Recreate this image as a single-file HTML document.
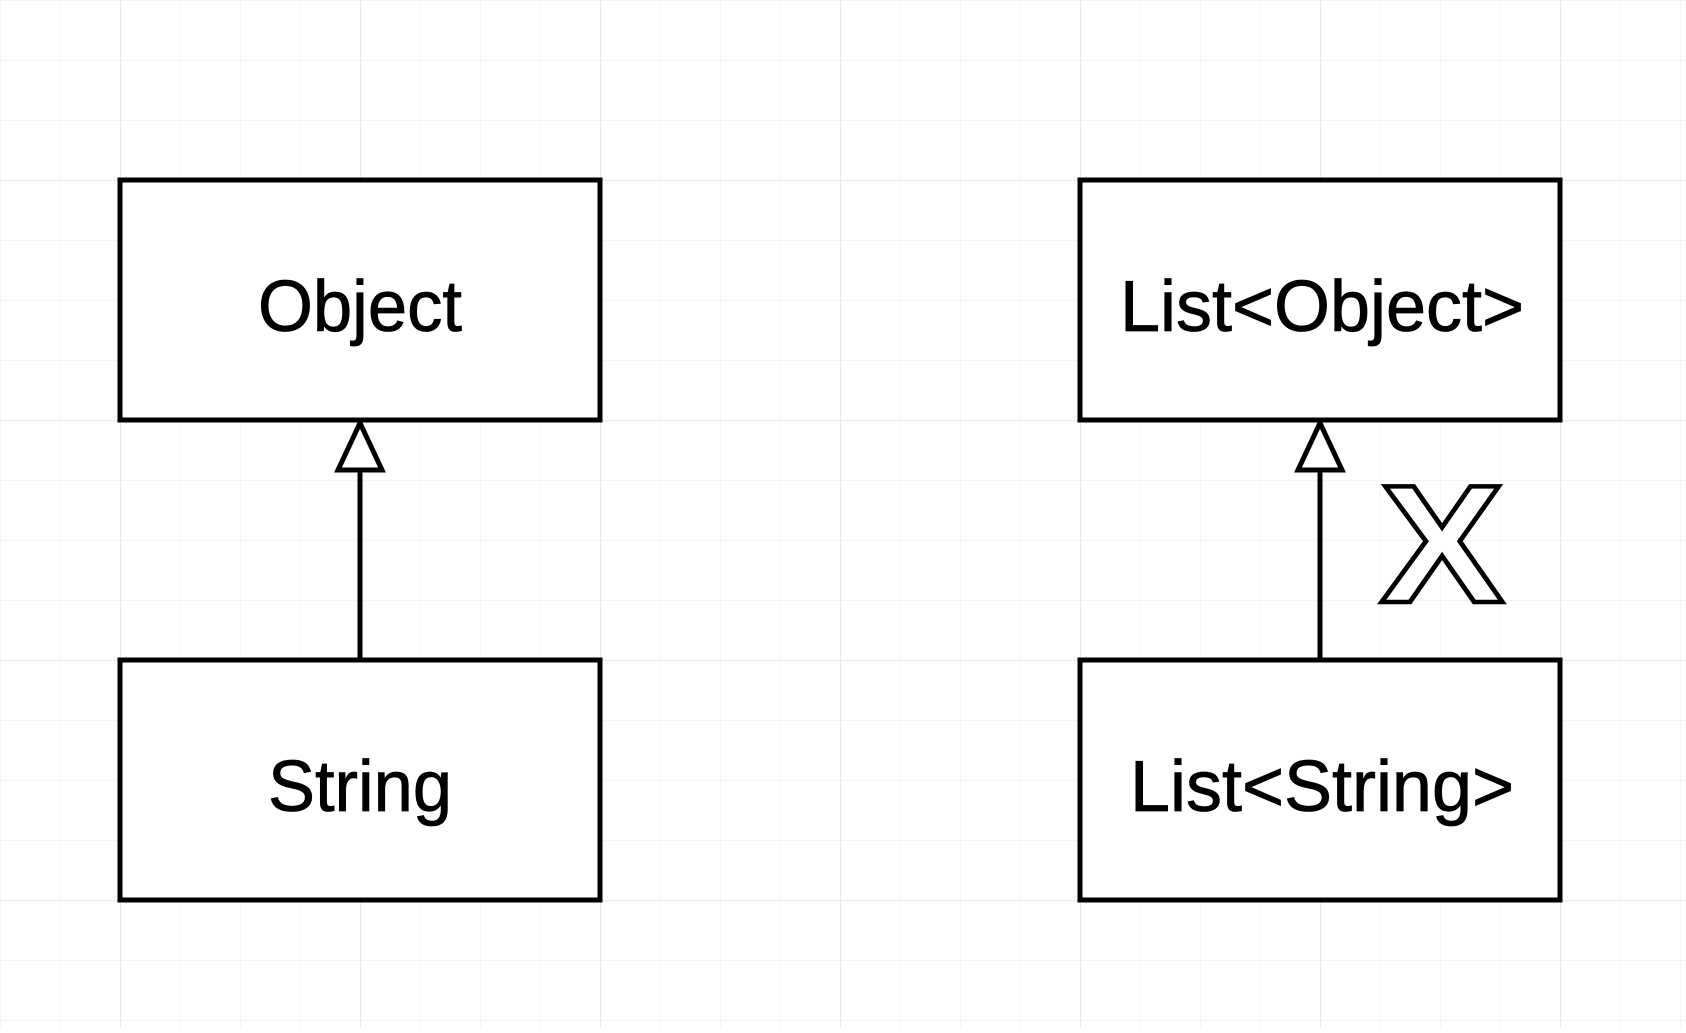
<!DOCTYPE html>
<html><head><meta charset="utf-8"><style>
html,body{margin:0;padding:0;background:#fff}
</style></head><body>
<svg width="1686" height="1028" xmlns="http://www.w3.org/2000/svg">
<defs>
<pattern id="minor" width="60" height="60" patternUnits="userSpaceOnUse">
<path d="M0 0H60M0 0V60" fill="none" stroke="#ebebeb" stroke-width="1"/>
</pattern>
<pattern id="major" x="120" y="180" width="240" height="240" patternUnits="userSpaceOnUse">
<path d="M0 0H240M0 0V240" fill="none" stroke="#d6d6d6" stroke-width="1"/>
</pattern>
</defs>
<rect width="1686" height="1028" fill="url(#minor)"/>
<rect width="1686" height="1028" fill="url(#major)"/>
<g fill="#fff" stroke="#000" stroke-width="5">
<rect x="120" y="180" width="480" height="240"/>
<rect x="120" y="660" width="480" height="240"/>
<rect x="1080" y="180" width="480" height="240"/>
<rect x="1080" y="660" width="480" height="240"/>
<line x1="360" y1="470" x2="360" y2="660"/>
<polygon points="360,423 338,470 382,470"/>
<line x1="1320" y1="470" x2="1320" y2="660"/>
<polygon points="1320,423 1298,470 1342,470"/>
</g>
<g font-family="Liberation Sans, Arial, sans-serif" font-size="72" text-anchor="middle" fill="#000" stroke="#000" stroke-width="0.8">
<text x="360" y="331" textLength="204" lengthAdjust="spacingAndGlyphs">Object</text>
<text x="360" y="811" textLength="184" lengthAdjust="spacingAndGlyphs">String</text>
<text x="1322" y="331" textLength="404" lengthAdjust="spacingAndGlyphs">List&lt;Object&gt;</text>
<text x="1322" y="811" textLength="384" lengthAdjust="spacingAndGlyphs">List&lt;String&gt;</text>
</g>
<text x="1380" y="602" font-family="Liberation Sans, Arial, sans-serif" font-weight="bold" font-size="168" textLength="124" lengthAdjust="spacingAndGlyphs" fill="#fff" stroke="#000" stroke-width="4.5">X</text>
</svg>
</body></html>
